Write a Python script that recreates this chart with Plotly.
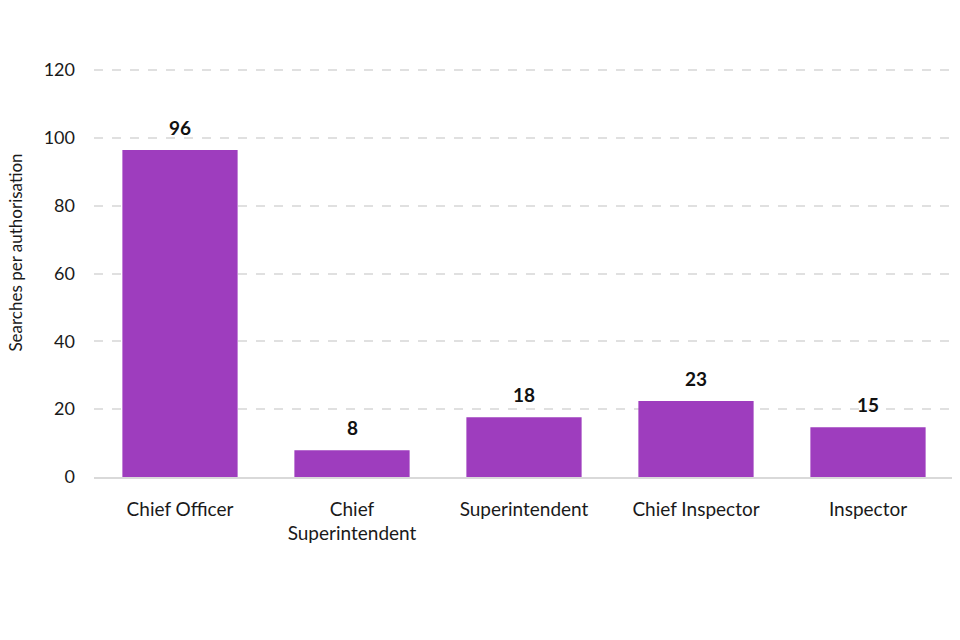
import plotly.graph_objects as go

categories = ["Chief Officer", "Chief<br>Superintendent", "Superintendent", "Chief Inspector", "Inspector"]
values = [96.4, 7.9, 17.6, 22.4, 14.7]
labels = ["96", "8", "18", "23", "15"]
y_ticks = [0, 20, 40, 60, 80, 100, 120]
y_title = "Searches per authorisation"

FONT = "Lato, 'Open Sans', sans-serif"
BAR = "#9E3DBE"

fig = go.Figure(go.Bar(x=categories, y=values, marker=dict(color=BAR, line=dict(width=0)),
                       hoverinfo="skip"))

for c, v, t in zip(categories, values, labels):
    fig.add_annotation(x=c, y=v, text="<b>" + t + "</b>", showarrow=False,
                       yanchor="bottom", yshift=9, font=dict(family=FONT, size=19, color="#111"))

fig.add_annotation(xref="paper", yref="paper", x=0, y=0.55, xshift=-78, textangle=-90,
                   text=y_title, showarrow=False, xanchor="center", yanchor="middle",
                   borderpad=0, font=dict(family=FONT, size=17, color="#1a1a1a"))

fig.update_layout(
    width=960, height=640,
    margin=dict(l=86, r=14, t=61, b=171),
    paper_bgcolor="white", plot_bgcolor="white",
    bargap=0.33, showlegend=False,
    font=dict(family=FONT, size=18, color="#1a1a1a"),
)
fig.update_xaxes(showgrid=False, showline=True, linecolor="#d9d9d9", linewidth=1.5,
                 ticks="", ticklabelstandoff=14, tickfont=dict(size=19))
fig.update_yaxes(range=[0, 120.3], tickvals=y_ticks, showgrid=True, gridcolor="#e0e0e0",
                 griddash="dash", gridwidth=1.5, zeroline=False, showline=False,
                 ticks="", ticklabelstandoff=18, tickfont=dict(size=18))

fig.write_html("out.html")
